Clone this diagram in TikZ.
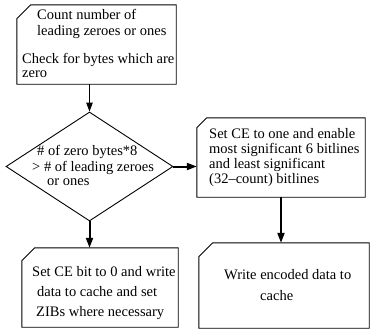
\documentclass[tikz,border=0pt]{standalone}
\usepackage{fontspec}
\setmainfont{Liberation Serif}
\usetikzlibrary{arrows.meta,shapes.geometric,fit,calc}
\newcommand\cardbox[6]{%
  \node[inner sep=0pt,fit={(#2,#3) (#4,#5)}] (#1) {};
  \draw[outline] ($(#1.north west)+(#6,0)$) -- (#1.north east) -- (#1.south east)
    -- (#1.south west) -- ($(#1.north west)+(0,#6)$) -- cycle;}
\begin{document}
\begin{tikzpicture}[x=1pt,y=-1pt,
  outline/.style={draw=black,line width=0.9pt,line join=miter},
  lbl/.style={anchor=base west,inner sep=0pt,font=\fontsize{14.5}{15}\selectfont},
  thinarrow/.style={line width=0.9pt,-{Triangle[length=9pt,width=6.5pt]}},
  thickarrow/.style={line width=2pt,-{Triangle[length=10pt,width=7pt]}}]
\useasboundingbox (0,0) rectangle (371,332);
\cardbox{A}{17}{5}{176}{84}{14}
\cardbox{B}{22}{248}{178}{327}{13}
\cardbox{C}{197}{118}{365}{197}{10}
\cardbox{E}{199}{243}{369}{328}{14}
\node[diamond,draw,line width=0.9pt,inner sep=0pt,minimum width=167pt,minimum height=109pt] (D) at (89.5,166.5) {};
% texts
\node[lbl] (a1) at (37,19.5) {Count number of};
\node[lbl] (a2) at (37,35) {leading zeroes or ones};
\node[lbl] (a3) at (22,63) {Check for bytes which are};
\node[lbl] (a4) at (22,77) {zero};
\node[lbl] (d1) at (37,155) {\# of zero bytes*8};
\node[lbl] (d2) at (32,171) {> \# of leading zeroes};
\node[lbl] (d3) at (47,185) {or ones};
\node[lbl] (c1) at (209,138) {Set CE to one and enable};
\node[lbl] (c2) at (209,153) {most significant 6 bitlines};
\node[lbl] (c3) at (209,168) {and least significant};
\node[lbl] (c4) at (209,183.5) {(32--count) bitlines};
\node[lbl] (b1) at (32,276.5) {Set CE bit to 0 and write};
\node[lbl] (b2) at (37,296.5) {data to cache and set};
\node[lbl] (b3) at (36,316.5) {ZIBs where necessary};
\node[lbl] (e1) at (224,279) {Write encoded data to};
\node[lbl] (e2) at (260,300) {cache};
% arrows
\draw[thinarrow] (D.north |- A.south) -- (D.north);
\draw[thickarrow] (D.south) -- (D.south |- B.north);
\draw[thickarrow] (D.east) -- (C.west |- D.east);
\draw[thickarrow] (C.south) -- (C.south |- E.north);
\end{tikzpicture}
\end{document}
